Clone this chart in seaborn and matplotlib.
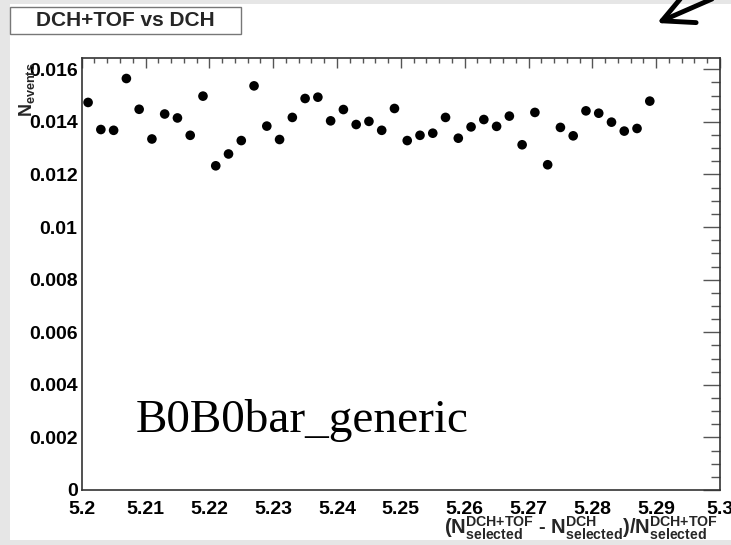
import matplotlib
matplotlib.use("Agg")
import matplotlib.pyplot as plt
from matplotlib.patches import Rectangle, FancyArrowPatch
from matplotlib.ticker import MultipleLocator, FixedLocator, FixedFormatter
import seaborn as sns
import pandas as pd

# bin centres and per-bin fractions
mass_bins = [5.201, 5.203, 5.205, 5.207, 5.209, 5.211, 5.213, 5.215, 5.217,
             5.219, 5.221, 5.223, 5.225, 5.227, 5.229, 5.231, 5.233, 5.235,
             5.237, 5.239, 5.241, 5.243, 5.245, 5.247, 5.249, 5.251, 5.253,
             5.255, 5.257, 5.259, 5.261, 5.263, 5.265, 5.267, 5.269, 5.271,
             5.273, 5.275, 5.277, 5.279, 5.281, 5.283, 5.285, 5.287, 5.289]
n_events = [0.01474, 0.01371, 0.01368, 0.01565, 0.01448, 0.01335, 0.01430,
            0.01415, 0.01349, 0.01498, 0.01233, 0.01278, 0.01329, 0.01537,
            0.01384, 0.01333, 0.01417, 0.01489, 0.01494, 0.01404, 0.01447,
            0.01390, 0.01402, 0.01368, 0.01451, 0.01329, 0.01349, 0.01357,
            0.01417, 0.01338, 0.01381, 0.01409, 0.01383, 0.01422, 0.01313,
            0.01436, 0.01237, 0.01379, 0.01347, 0.01442, 0.01433, 0.01399,
            0.01365, 0.01375, 0.01479]

x_ticks = [5.2, 5.21, 5.22, 5.23, 5.24, 5.25, 5.26, 5.27, 5.28, 5.29, 5.3]
x_labels = ["5.2", "5.21", "5.22", "5.23", "5.24", "5.25", "5.26", "5.27",
            "5.28", "5.29", "5.3"]
y_ticks = [0, 0.002, 0.004, 0.006, 0.008, 0.01, 0.012, 0.014, 0.016]
y_labels = ["0", "0.002", "0.004", "0.006", "0.008", "0.01", "0.012",
            "0.014", "0.016"]

df = pd.DataFrame({"mass": mass_bins, "frac": n_events})

sns.set_style("white")
plt.rcParams["font.family"] = ["Liberation Sans", "DejaVu Sans"]
plt.rcParams["font.weight"] = "bold"
plt.rcParams["mathtext.default"] = "regular"

W, H = 731, 545
fig = plt.figure(figsize=(W / 100, H / 100), dpi=100)
fig.patch.set_facecolor("#e6e6e6")
fig.add_artist(Rectangle((10 / W, 5 / H), 721 / W, 536 / H,
                         transform=fig.transFigure, facecolor="white",
                         edgecolor="none", zorder=-5))

ax = fig.add_axes([81.7 / W, 1 - 490 / H, 638.3 / W, 432 / H])
sns.scatterplot(data=df, x="mass", y="frac", ax=ax, color="black",
                s=48, edgecolor="none", legend=False, zorder=3)

ax.set_xlim(5.2, 5.3)
ax.set_ylim(0, 0.01643)
ax.set_xlabel("")
ax.set_ylabel("")

ax.xaxis.set_major_locator(FixedLocator(x_ticks))
ax.xaxis.set_major_formatter(FixedFormatter(x_labels))
ax.xaxis.set_minor_locator(MultipleLocator(0.002))
ax.yaxis.set_major_locator(FixedLocator(y_ticks))
ax.yaxis.set_major_formatter(FixedFormatter(y_labels))
ax.yaxis.set_minor_locator(MultipleLocator(0.0005))

ax.tick_params(axis="both", which="both", direction="in", color="#555555",
               top=True, right=True, labelsize=14, labelcolor="black")
ax.tick_params(axis="x", which="major", length=7.5, width=1, pad=8)
ax.tick_params(axis="x", which="minor", length=3.8, width=1)
ax.tick_params(axis="y", which="major", length=12.5, width=1, pad=3)
ax.tick_params(axis="y", which="minor", length=6.5, width=1)
for lab in ax.get_xticklabels() + ax.get_yticklabels():
    lab.set_fontweight("bold")
for sp in ax.spines.values():
    sp.set_color("#333333")
    sp.set_linewidth(1.2)

# axis titles in ROOT style
fig.text(27 / W, 1 - 117 / H, r"$N_{events}$", rotation=90, ha="center",
         va="bottom", fontsize=13, fontweight="bold")
fig.text(718 / W, 1 - 534 / H,
         r"$(N^{DCH{+}TOF}_{selected}$ - $N^{DCH}_{selected})/N^{DCH{+}TOF}_{selected}$",
         ha="right", va="baseline", fontsize=14.5, fontweight="bold")

# title box
fig.add_artist(Rectangle((10 / W, 1 - 34 / H), 231 / W, 27 / H,
                         transform=fig.transFigure, facecolor="white",
                         edgecolor="#777777", lw=1))
fig.text(125.5 / W, 1 - 21 / H, "DCH+TOF vs DCH", ha="center", va="center",
         fontsize=15, fontweight="bold")

# sample name
fig.text(136 / W, 1 - 432 / H, "B0B0bar_generic", ha="left", va="baseline",
         fontsize=34, fontweight="normal", color="black",
         family=["Liberation Serif", "DejaVu Serif"])

# arrow top right
fig.add_artist(FancyArrowPatch(
    (712 / W, 1 + 1 / H), (657 / W, 1 - 23 / H), transform=fig.transFigure,
    arrowstyle="->,head_length=1.1,head_width=0.55", mutation_scale=20,
    shrinkA=0, shrinkB=0, lw=3.5, color="black", capstyle="round",
    joinstyle="round"))

fig.savefig("out.png", dpi=100)
